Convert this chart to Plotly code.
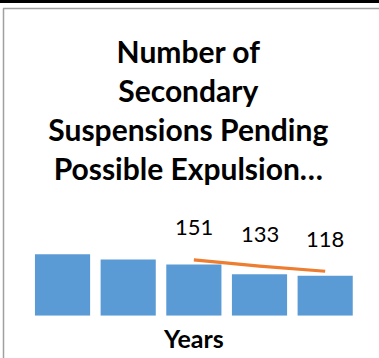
import plotly.graph_objects as go

# data
years = ["Year 1", "Year 2", "Year 3", "Year 4", "Year 5"]
bar_values = [179, 164, 149, 121, 116]
line_years = ["Year 3", "Year 4", "Year 5"]
line_values = [151, 133, 118]

W, H = 379, 358
FONT = "Lato, 'Open Sans', sans-serif"


def px_x(p):
    return p / W


def px_y(p):
    return 1 - p / H


fig = go.Figure()

fig.add_trace(go.Bar(
    x=years,
    y=bar_values,
    marker=dict(color="#5B9BD5", line=dict(width=0)),
    hoverinfo="skip",
))

fig.add_trace(go.Scatter(
    x=line_years,
    y=line_values,
    yaxis="y2",
    mode="lines",
    line=dict(color="#ED7D31", width=3.2),
    hoverinfo="skip",
))

# data labels over the line points
for yr, v in zip(line_years, line_values):
    fig.add_annotation(
        x=yr, y=v, xref="x", yref="y2",
        text=str(v), showarrow=False,
        yshift=33,
        font=dict(family=FONT, size=22, color="#000000"),
    )

# axis title
fig.add_annotation(
    x=px_x(193.3), y=px_y(338), xref="paper", yref="paper",
    text="<b>Years</b>", showarrow=False,
    xanchor="center", yanchor="middle",
    font=dict(family=FONT, size=25, color="#000000"),
)

fig.update_layout(
    width=W, height=H,
    margin=dict(l=0, r=0, t=0, b=0),
    paper_bgcolor="white",
    plot_bgcolor="white",
    showlegend=False,
    bargap=0.16,
    title=dict(
        text="<b>Number of<br>Secondary<br>Suspensions Pending<br>Possible Expulsion…</b>",
        x=px_x(188.3), xanchor="center",
        y=px_y(63), yanchor="top",
        font=dict(family=FONT, size=30, color="#000000"),
    ),
    xaxis=dict(
        domain=[px_x(29.7), px_x(358)],
        showticklabels=False, showgrid=False, zeroline=False,
        showline=False, ticks="",
    ),
    yaxis=dict(
        domain=[px_y(315.7), px_y(200)],
        range=[0, 337],
        visible=False,
    ),
    yaxis2=dict(
        domain=[px_y(315.7), px_y(200)],
        range=[-11.4, 325.6],
        overlaying="y",
        visible=False,
    ),
    shapes=[
        # black strip at the top
        dict(type="rect", xref="paper", yref="paper",
             x0=0, x1=1, y0=px_y(3), y1=1,
             fillcolor="black", line=dict(width=0)),
        # grey chart frame (top and left edges)
        dict(type="line", xref="paper", yref="paper",
             x0=px_x(3), x1=1, y0=px_y(8.5), y1=px_y(8.5),
             line=dict(color="#A0A0A0", width=1.5)),
        dict(type="line", xref="paper", yref="paper",
             x0=px_x(3.5), x1=px_x(3.5), y0=0, y1=px_y(8.5),
             line=dict(color="#A0A0A0", width=1.5)),
    ],
)

fig.write_html(
    "out.html",
    config={"displayModeBar": False},
    post_script="document.body.style.margin='0';",
)
